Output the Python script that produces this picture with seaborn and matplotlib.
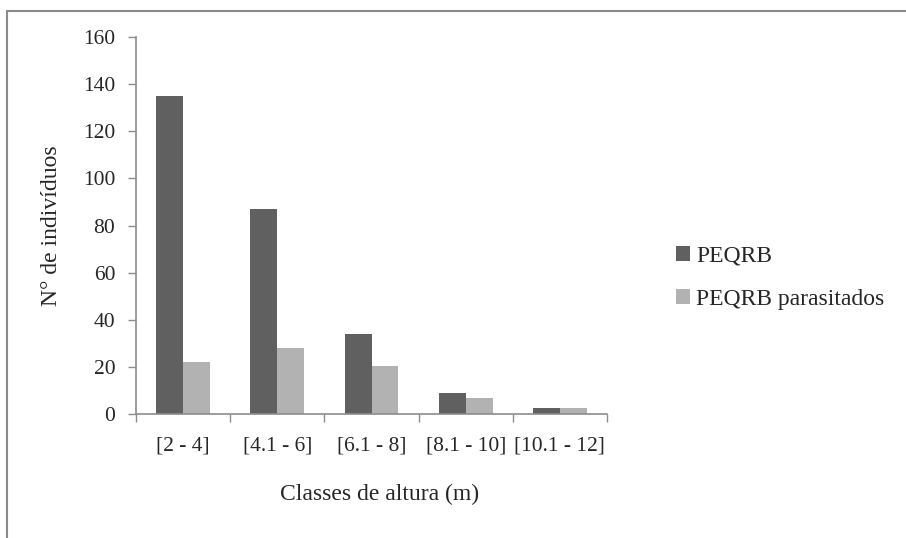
import matplotlib
matplotlib.use("Agg")
import matplotlib.pyplot as plt
from matplotlib.lines import Line2D
from matplotlib.patches import Patch
import seaborn as sns
import pandas as pd
import numpy as np

categories = ["[2 - 4]", "[4.1 - 6]", "[6.1 - 8]", "[8.1 - 10]", "[10.1 - 12]"]
series_names = ["PEQRB", "PEQRB parasitados"]
peqrb = [135, 87, 34, 9, 2.5]
parasitados = [22, 28, 20.5, 7, 2.5]
y_ticks = [0, 20, 40, 60, 80, 100, 120, 140, 160]

df = pd.DataFrame({
    "classe": categories * 2,
    "serie": [series_names[0]] * len(categories) + [series_names[1]] * len(categories),
    "valor": peqrb + parasitados,
})

sns.set_theme(style="white")
plt.rcParams["font.family"] = ["Liberation Serif", "DejaVu Serif"]

colors = ["#606060", "#b2b2b2"]
fig = plt.figure(figsize=(9.06, 5.38), dpi=100)
L, R, T, B = 136, 607, 37, 414
ax = fig.add_axes([L / 906, 1 - B / 538, (R - L) / 906, (B - T) / 538])

sns.barplot(data=df, x="classe", y="valor", hue="serie", order=categories,
            hue_order=series_names, palette=colors, width=0.573, gap=0,
            saturation=1, ax=ax, legend=False, linewidth=0)

ax.set_xlim(-0.5, len(categories) - 0.5)
ax.set_ylim(0, 160)
ax.set_yticks(y_ticks)
ax.set_yticklabels([str(t) for t in y_ticks], fontsize=15.5)

ax.set_xticks(range(len(categories)))
ax.set_xticklabels(categories, fontsize=15.5)
ax.tick_params(axis="x", which="major", length=0, pad=16)
ax.set_xticks(np.arange(-0.5, len(categories), 1.0), minor=True)
ax.tick_params(axis="x", which="minor", length=6, width=1, color="#8c8c8c", direction="out", bottom=True)
ax.tick_params(axis="y", length=6, width=1, color="#8c8c8c", direction="out", left=True, pad=9)

for s in ["top", "right"]:
    ax.spines[s].set_visible(False)
for s in ["left", "bottom"]:
    ax.spines[s].set_color("#8c8c8c")
    ax.spines[s].set_linewidth(1.2)

ax.set_xlabel("Classes de altura (m)", fontsize=17)
ax.xaxis.set_label_coords((380 - L) / (R - L), (B - 494) / (B - T))
ax.xaxis.label.set_va("center")
ax.set_ylabel("N° de indivíduos", fontsize=17)
ax.yaxis.set_label_coords((52 - L) / (R - L), 0.5)
ax.yaxis.label.set_va("center")

handles = [Patch(facecolor=c, edgecolor="none") for c in colors]
fig.legend(handles, series_names, loc="center left", bbox_to_anchor=(676 / 906, 1 - 278 / 538),
           frameon=False, fontsize=17, handlelength=0.6, handleheight=0.6,
           handletextpad=0.25, labelspacing=0.95, borderaxespad=0, borderpad=0)

# outer chart border (top and left edges visible)
fig.add_artist(Line2D([7 / 906, 7 / 906], [0, 1 - 11 / 538], transform=fig.transFigure, color="#8a8a8a", lw=1.5))
fig.add_artist(Line2D([7 / 906, 1], [1 - 11 / 538, 1 - 11 / 538], transform=fig.transFigure, color="#8a8a8a", lw=1.5))

fig.savefig("out.png", dpi=100)
